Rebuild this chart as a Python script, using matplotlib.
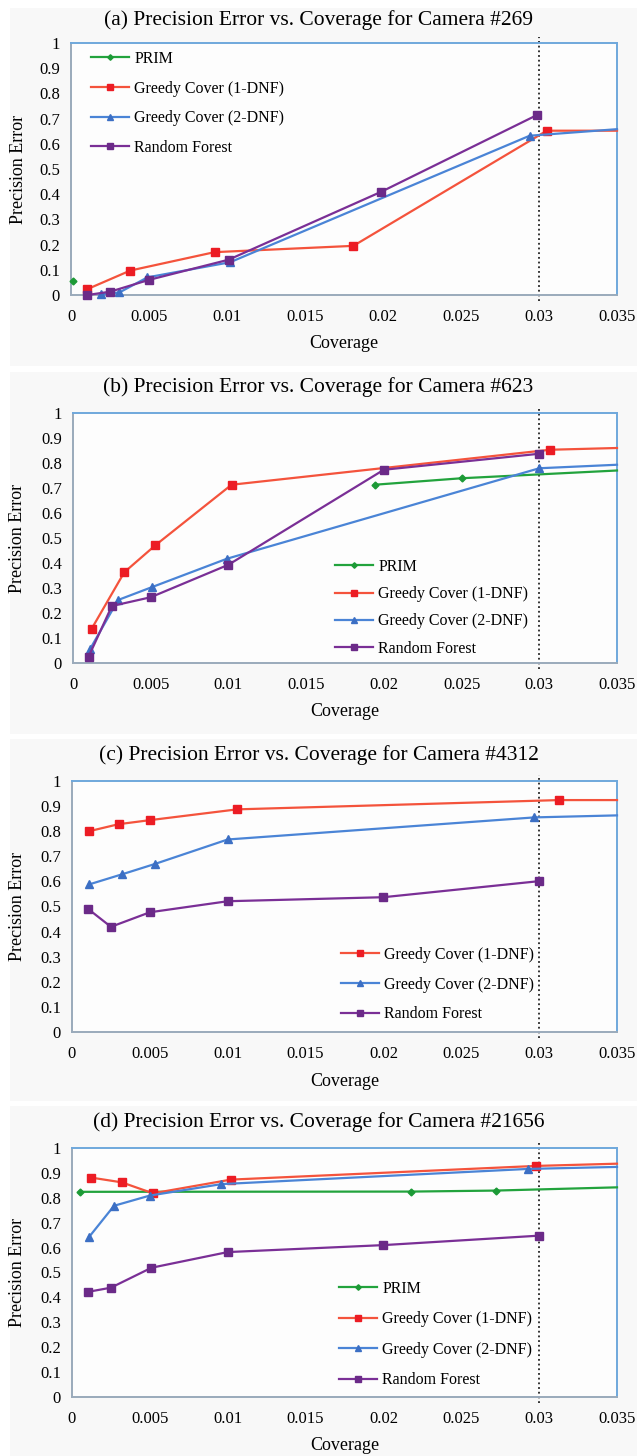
import matplotlib
matplotlib.use('Agg')
import matplotlib.pyplot as plt
from matplotlib.patches import Rectangle
from matplotlib.ticker import FuncFormatter, MultipleLocator

plt.rcParams['font.family'] = ['Liberation Serif', 'DejaVu Serif']

# ---- data ---------------------------------------------------------------
# (a) camera #269
a_prim_x = [0.00015]
a_prim_y = [0.056]
a_g1_x = [0.001, 0.0038, 0.0092, 0.0181, 0.0305]
a_g1_y = [0.022, 0.097, 0.17, 0.195, 0.652]
a_g1_end = 0.652
a_g2_x = [0.0019, 0.0031, 0.0049, 0.0102, 0.0294]
a_g2_y = [0.003, 0.01, 0.07, 0.13, 0.632]
a_g2_end = 0.658
a_rf_x = [0.00105, 0.0025, 0.005, 0.0101, 0.0199, 0.0299]
a_rf_y = [0.0, 0.013, 0.06, 0.14, 0.41, 0.715]

# (b) camera #623
b_prim_x = [0.0194, 0.025]
b_prim_y = [0.713, 0.739]
b_prim_end = 0.77
b_g1_x = [0.0012, 0.0033, 0.0053, 0.0102, 0.0307]
b_g1_y = [0.137, 0.363, 0.471, 0.713, 0.853]
b_g1_end = 0.86
b_g2_x = [0.0011, 0.0029, 0.0051, 0.0099, 0.030]
b_g2_y = [0.056, 0.252, 0.304, 0.417, 0.779]
b_g2_end = 0.793
b_rf_x = [0.001, 0.0025, 0.005, 0.010, 0.020, 0.030]
b_rf_y = [0.025, 0.228, 0.263, 0.393, 0.773, 0.837]

# (c) camera #4312 (no PRIM)
c_g1_x = [0.0011, 0.003, 0.005, 0.0106, 0.0313]
c_g1_y = [0.80, 0.828, 0.844, 0.887, 0.924]
c_g1_end = 0.924
c_g2_x = [0.0011, 0.0032, 0.0053, 0.010, 0.0297]
c_g2_y = [0.588, 0.628, 0.669, 0.767, 0.855]
c_g2_end = 0.863
c_rf_x = [0.001, 0.0025, 0.005, 0.010, 0.020, 0.030]
c_rf_y = [0.492, 0.419, 0.477, 0.521, 0.537, 0.601]

# (d) camera #21656
d_prim_x = [0.0005, 0.0218, 0.0272]
d_prim_y = [0.824, 0.825, 0.829]
d_prim_end = 0.842
d_g1_x = [0.00125, 0.0032, 0.0052, 0.0102, 0.0298]
d_g1_y = [0.881, 0.862, 0.818, 0.873, 0.928]
d_g1_end = 0.937
d_g2_x = [0.0011, 0.0027, 0.005, 0.0096, 0.0293]
d_g2_y = [0.643, 0.768, 0.809, 0.855, 0.916]
d_g2_end = 0.924
d_rf_x = [0.001, 0.0025, 0.0051, 0.010, 0.020, 0.030]
d_rf_y = [0.422, 0.439, 0.519, 0.582, 0.61, 0.648]

titles = ['(a) Precision Error vs. Coverage for Camera #269',
          '(b) Precision Error vs. Coverage for Camera #623',
          '(c) Precision Error vs. Coverage for Camera #4312',
          '(d) Precision Error vs. Coverage for Camera #21656']
x_max = 0.035
cutoff = 0.03

# styles per method
styles = {
    'PRIM': dict(color='#22a33d', marker='D', ms=3.5, mfc='#1c9a36', mec='#1c9a36'),
    'Greedy Cover (1-DNF)': dict(color='#f4533c', marker='s', ms=6, mfc='#ec1c24', mec='#ec1c24'),
    'Greedy Cover (2-DNF)': dict(color='#4a84d6', marker='^', ms=6, mfc='#3c6fc4', mec='#3c6fc4'),
    'Random Forest': dict(color='#7a2f96', marker='s', ms=6, mfc='#6b2a88', mec='#6b2a88'),
}

panels = [
    [('PRIM', a_prim_x, a_prim_y, None), ('Greedy Cover (1-DNF)', a_g1_x, a_g1_y, a_g1_end),
     ('Greedy Cover (2-DNF)', a_g2_x, a_g2_y, a_g2_end), ('Random Forest', a_rf_x, a_rf_y, None)],
    [('PRIM', b_prim_x, b_prim_y, b_prim_end), ('Greedy Cover (1-DNF)', b_g1_x, b_g1_y, b_g1_end),
     ('Greedy Cover (2-DNF)', b_g2_x, b_g2_y, b_g2_end), ('Random Forest', b_rf_x, b_rf_y, None)],
    [('Greedy Cover (1-DNF)', c_g1_x, c_g1_y, c_g1_end),
     ('Greedy Cover (2-DNF)', c_g2_x, c_g2_y, c_g2_end), ('Random Forest', c_rf_x, c_rf_y, None)],
    [('PRIM', d_prim_x, d_prim_y, d_prim_end), ('Greedy Cover (1-DNF)', d_g1_x, d_g1_y, d_g1_end),
     ('Greedy Cover (2-DNF)', d_g2_x, d_g2_y, d_g2_end), ('Random Forest', d_rf_x, d_rf_y, None)],
]

# layout in pixels: (left, right, top, bottom) of each axes box
W, H = 637, 1456
boxes = [(71, 617, 43, 295), (73, 617, 413, 663), (72, 617, 781, 1032), (72, 617, 1148, 1397)]
title_y = [20, 387, 755, 1122]
bands = [(8, 366), (372, 734), (739, 1101), (1106, 1456)]
# legend: (handle start x px, top y px, label spacing)
legends = [(91, 51, 0.85), (335, 559, 0.7), (341, 947, 0.85), (339, 1281, 0.9)]

fig = plt.figure(figsize=(W / 100, H / 100), dpi=100)
fig.patch.set_facecolor('white')

for top, bot in bands:
    fig.patches.append(Rectangle((10 / W, 1 - bot / H), 1 - 10 / W, (bot - top) / H,
                                 transform=fig.transFigure, facecolor='#f8f8f8',
                                 edgecolor='none', zorder=-5))

for i, series in enumerate(panels):
    l, r, t, b = boxes[i]
    ax = fig.add_axes([l / W, 1 - b / H, (r - l) / W, (b - t) / H])
    ax.set_facecolor('#fdfdfd')
    for name, xs, ys, end in series:
        st = styles[name]
        px, py = list(xs), list(ys)
        if end is not None:
            px.append(x_max)
            py.append(end)
        ax.plot(px, py, color=st['color'], lw=1.6, marker=st['marker'], ms=st['ms'],
                mfc=st['mfc'], mec=st['mec'], markevery=list(range(len(xs))),
                label=name, clip_on=False, zorder=3)
    ax.axvline(cutoff, ymin=-0.025, ymax=1.025, color='#222222', ls=(0, (1, 1.6)),
               lw=1.3, clip_on=False, zorder=2)
    ax.set_xlim(0, x_max)
    ax.set_ylim(0, 1)
    ax.xaxis.set_major_locator(MultipleLocator(0.005))
    ax.yaxis.set_major_locator(MultipleLocator(0.1))
    ax.xaxis.set_major_formatter(FuncFormatter(lambda v, p: '%g' % round(v, 4)))
    ax.yaxis.set_major_formatter(FuncFormatter(lambda v, p: '%g' % round(v, 2)))
    ax.tick_params(length=0, labelsize=12, pad=8)
    ax.tick_params(axis='x', pad=10)
    for s in ['top', 'right']:
        ax.spines[s].set_color('#6fa8dc')
    for s in ['left', 'bottom']:
        ax.spines[s].set_color('#9aaabb')
    for s in ax.spines.values():
        s.set_linewidth(1.4)
    ax.set_xlabel('Coverage', fontsize=13, va='center')
    ax.xaxis.set_label_coords(0.5, -49 / (b - t))
    ax.set_ylabel('Precision Error', fontsize=13, va='center')
    ax.yaxis.set_label_coords(-(l - 18) / (r - l), 0.5)

    fig.text(0.5, 1 - title_y[i] / H, titles[i], fontsize=15.5, ha='center', va='center')

    lx, ly, sp = legends[i]
    ax.legend(loc='upper left', bbox_to_anchor=((lx - l) / (r - l), (b - ly) / (b - t)),
              frameon=False, fontsize=11.5, borderpad=0, borderaxespad=0,
              handlelength=2.4, handletextpad=0.3, labelspacing=sp, markerscale=0.8)

fig.savefig('out.png', dpi=100, facecolor=fig.get_facecolor())
